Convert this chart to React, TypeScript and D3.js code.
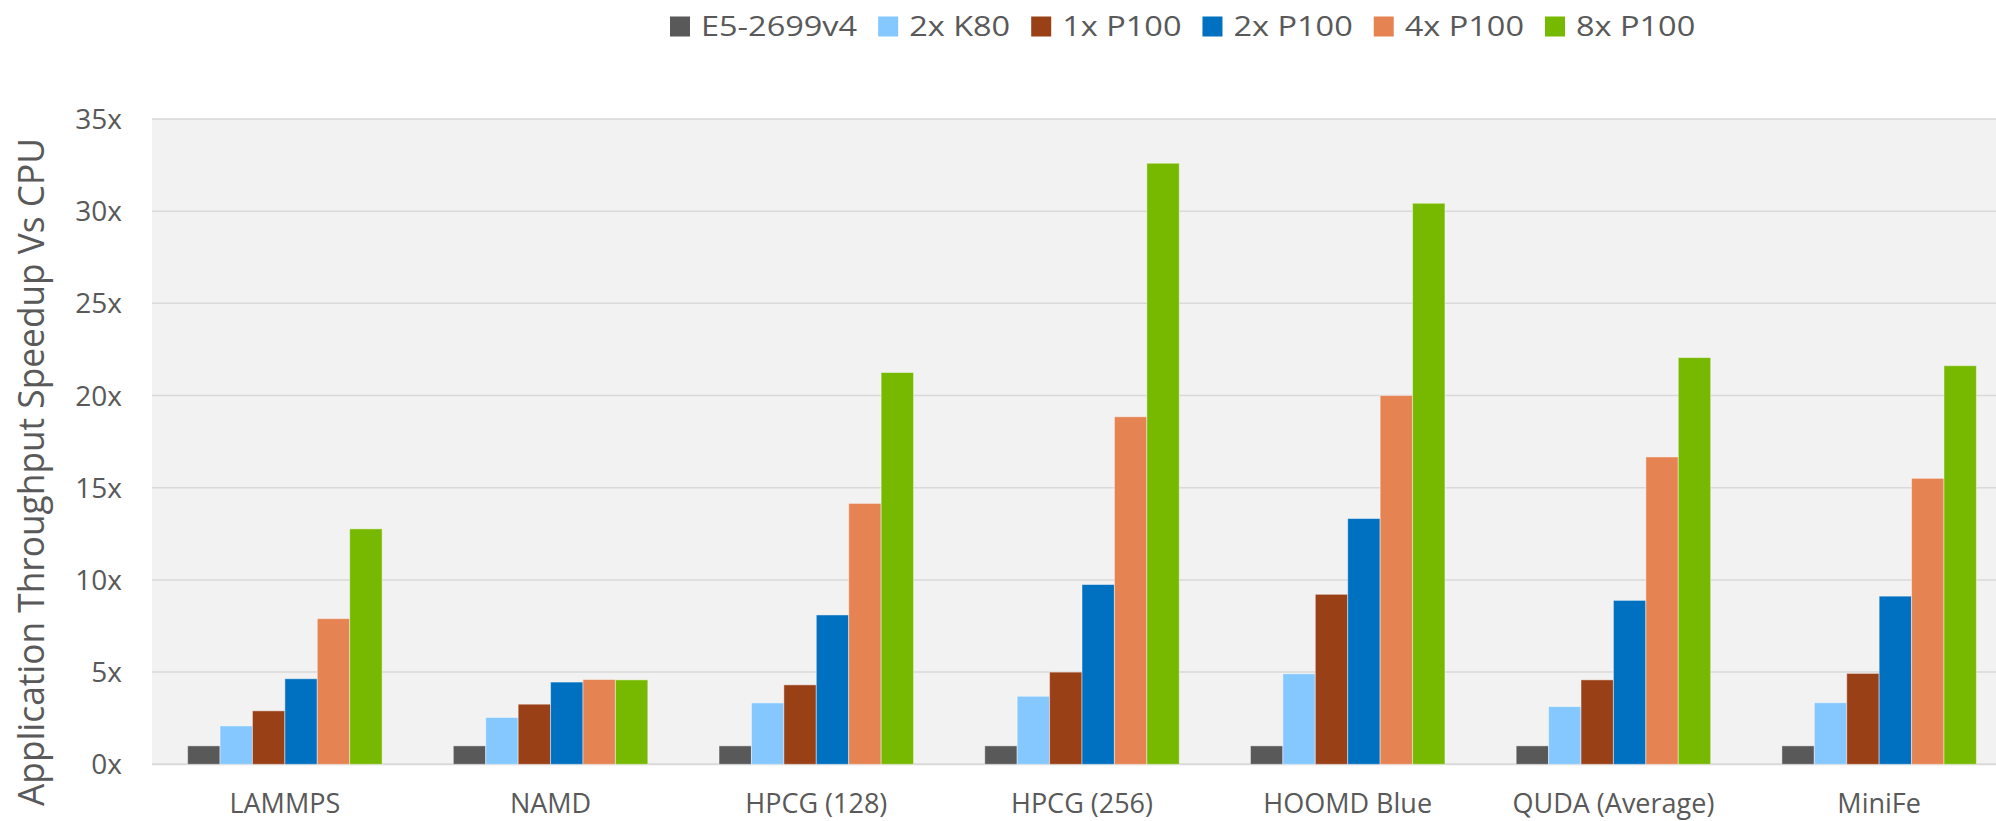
import React, { useEffect, useRef } from "react";
import * as d3 from "d3";

const categories = ["LAMMPS", "NAMD", "HPCG (128)", "HPCG (256)", "HOOMD Blue", "QUDA (Average)", "MiniFe"];
const seriesNames = ["E5-2699v4", "2x K80", "1x P100", "2x P100", "4x P100", "8x P100"];
const seriesColors = ["#595959", "#85C8FF", "#9A4016", "#0070C0", "#E68352", "#76B900"];

const cpuE5 = [1, 1, 1, 1, 1, 1, 1];
const k80x2 = [2.08, 2.54, 3.33, 3.69, 4.91, 3.13, 3.34];
const p100x1 = [2.9, 3.26, 4.31, 5.0, 9.22, 4.58, 4.93];
const p100x2 = [4.64, 4.46, 8.1, 9.75, 13.33, 8.89, 9.12];
const p100x4 = [7.9, 4.6, 14.15, 18.85, 20.0, 16.67, 15.51];
const p100x8 = [12.77, 4.58, 21.25, 32.6, 30.43, 22.06, 21.62];
const seriesValues = [cpuE5, k80x2, p100x1, p100x2, p100x4, p100x8];

const yTicks = [0, 5, 10, 15, 20, 25, 30, 35];
const yTitle = "Application Throughput Speedup Vs CPU";

const W = 1996;
const H = 821;

export default function App() {
  const ref = useRef<SVGSVGElement | null>(null);

  useEffect(() => {
    const svg = d3.select(ref.current);
    svg.selectAll("*").remove();
    const font = "'Open Sans', sans-serif";
    const textColor = "#595959";

    const plotLeft = 152;
    const plotRight = 2012;
    const plotTop = 119;
    const plotBottom = 764.3;

    const x0 = d3
      .scaleBand<string>()
      .domain(categories)
      .range([plotLeft, plotRight])
      .paddingInner(0.268)
      .paddingOuter(0.134);
    const x1 = d3.scaleBand<string>().domain(seriesNames).range([0, x0.bandwidth()]).padding(0);
    const y = d3.scaleLinear().domain([0, 35]).range([plotBottom, plotTop]);

    // plot background
    svg
      .append("rect")
      .attr("x", plotLeft)
      .attr("y", plotTop)
      .attr("width", W - plotLeft)
      .attr("height", plotBottom - plotTop)
      .attr("fill", "#F2F2F2");

    // gridlines
    svg
      .append("g")
      .selectAll("line")
      .data(yTicks)
      .join("line")
      .attr("x1", plotLeft)
      .attr("x2", W)
      .attr("y1", (d) => y(d))
      .attr("y2", (d) => y(d))
      .attr("stroke", "#D9D9D9")
      .attr("stroke-width", (d) => (d === 0 ? 2 : 1.5));

    // y tick labels
    svg
      .append("g")
      .selectAll("text")
      .data(yTicks)
      .join("text")
      .attr("x", 122)
      .attr("y", (d) => y(d) + 10)
      .attr("text-anchor", "end")
      .attr("font-family", font)
      .attr("font-size", 28)
      .attr("fill", textColor)
      .text((d) => `${d}x`);

    // bars
    const groups = svg
      .append("g")
      .selectAll("g")
      .data(categories)
      .join("g")
      .attr("transform", (c) => `translate(${x0(c)},0)`);

    groups
      .selectAll("rect")
      .data((c) => seriesNames.map((s, si) => ({ s, si, v: seriesValues[si][categories.indexOf(c)] })))
      .join("rect")
      .attr("x", (d) => x1(d.s) as number)
      .attr("width", x1.bandwidth())
      .attr("y", (d) => y(d.v))
      .attr("height", (d) => plotBottom - y(d.v))
      .attr("fill", (d) => seriesColors[d.si])
      .attr("stroke", "#ffffff")
      .attr("stroke-opacity", 0.45)
      .attr("stroke-width", 1);

    // x labels
    svg
      .append("g")
      .selectAll("text")
      .data(categories)
      .join("text")
      .attr("x", (c) => (x0(c) as number) + x0.bandwidth() / 2)
      .attr("y", 813)
      .attr("text-anchor", "middle")
      .attr("font-family", font)
      .attr("font-size", 27)
      .attr("fill", textColor)
      .text((c) => c);

    // y title
    svg
      .append("text")
      .attr("transform", `translate(44,${472}) rotate(-90)`)
      .attr("text-anchor", "middle")
      .attr("font-family", font)
      .attr("font-size", 36)
      .attr("fill", textColor)
      .attr("textLength", 668)
      .attr("lengthAdjust", "spacingAndGlyphs")
      .text(yTitle);

    // legend
    const legend = svg.append("g");
    let cursor = 670;
    seriesNames.forEach((name, i) => {
      legend
        .append("rect")
        .attr("x", cursor)
        .attr("y", 16.5)
        .attr("width", 20)
        .attr("height", 20)
        .attr("fill", seriesColors[i]);
      const t = legend
        .append("text")
        .attr("x", cursor + 31)
        .attr("y", 36)
        .attr("font-family", font)
        .attr("font-size", 28)
        .attr("fill", textColor)
        .text(name);
      const natural = (t.node() as SVGTextElement).getComputedTextLength();
      const stretched = natural * 1.16;
      t.attr("textLength", stretched).attr("lengthAdjust", "spacingAndGlyphs");
      cursor += 31 + stretched + 21;
    });
  }, []);

  return (
    <svg
      ref={ref}
      width={W}
      height={H}
      style={{ position: "absolute", left: 0, top: 0, background: "#ffffff", display: "block" }}
    />
  );
}
